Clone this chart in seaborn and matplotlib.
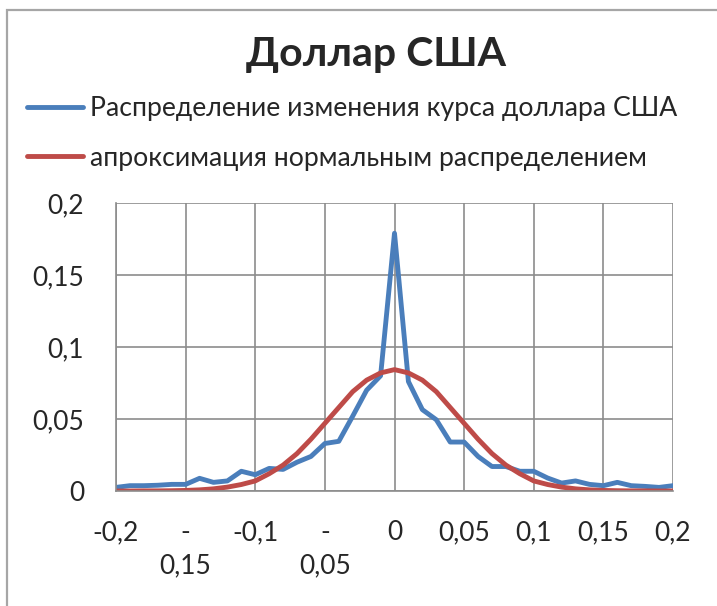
import matplotlib
matplotlib.use('Agg')
import seaborn as sns
import matplotlib.pyplot as plt
import pandas as pd
from matplotlib.patches import Rectangle

# x grid of changes, step 0.01
x_vals = [-0.20, -0.19, -0.18, -0.17, -0.16, -0.15, -0.14, -0.13, -0.12, -0.11,
          -0.10, -0.09, -0.08, -0.07, -0.06, -0.05, -0.04, -0.03, -0.02, -0.01,
          0.00, 0.01, 0.02, 0.03, 0.04, 0.05, 0.06, 0.07, 0.08, 0.09,
          0.10, 0.11, 0.12, 0.13, 0.14, 0.15, 0.16, 0.17, 0.18, 0.19, 0.20]

usd_dist = [0.0025, 0.0037, 0.0037, 0.0040, 0.0046, 0.0046, 0.0088, 0.0060, 0.0070, 0.0137,
            0.0113, 0.0157, 0.0150, 0.0200, 0.0240, 0.0330, 0.0345, 0.0520, 0.0700, 0.0800,
            0.1790, 0.0760, 0.0565, 0.0495, 0.0340, 0.0340, 0.0240, 0.0170, 0.0170, 0.0137,
            0.0137, 0.0090, 0.0055, 0.0070, 0.0046, 0.0037, 0.0060, 0.0037, 0.0032, 0.0025,
            0.0037]

normal_fit = [0.0000, 0.0000, 0.0001, 0.0001, 0.0002, 0.0004, 0.0008, 0.0015, 0.0027, 0.0045,
              0.0070, 0.0120, 0.0180, 0.0260, 0.0360, 0.0470, 0.0580, 0.0690, 0.0770, 0.0820,
              0.0843, 0.0820, 0.0770, 0.0690, 0.0580, 0.0470, 0.0360, 0.0260, 0.0180, 0.0120,
              0.0070, 0.0045, 0.0027, 0.0015, 0.0008, 0.0004, 0.0002, 0.0001, 0.0001, 0.0000,
              0.0000]

series_names = ['Распределение изменения курса доллара США',
                'апроксимация нормальным распределением']
title = 'Доллар США'

x_ticks = [-0.2, -0.15, -0.1, -0.05, 0, 0.05, 0.1, 0.15, 0.2]
x_tick_labels = ['-0,2', '-\n0,15', '-0,1', '-\n0,05', '0', '0,05', '0,1', '0,15', '0,2']
y_ticks = [0, 0.05, 0.1, 0.15, 0.2]
y_tick_labels = ['0', '0,05', '0,1', '0,15', '0,2']

colors = ['#4A7EBB', '#BE4B48']

df = pd.DataFrame({'x': x_vals * 2,
                   'y': usd_dist + normal_fit,
                   'series': [series_names[0]] * len(x_vals) + [series_names[1]] * len(x_vals)})

sns.set_style('white')
plt.rcParams['font.family'] = ['Lato', 'DejaVu Sans']

fig = plt.figure(figsize=(7.17, 6.06), dpi=100)
ax = fig.add_axes([116 / 717, 1 - 491 / 606, (673 - 116) / 717, (491 - 203) / 606])

sns.lineplot(data=df, x='x', y='y', hue='series', palette=colors, linewidth=3.5,
             ax=ax, legend=False, sort=False)

grid_c = '#8C8C8C'
ax.set_xlim(-0.2, 0.2)
ax.set_ylim(0, 0.2)
ax.set_xticks(x_ticks)
ax.set_xticklabels(x_tick_labels, fontsize=19, linespacing=1.4)
ax.set_yticks(y_ticks)
ax.set_yticklabels(y_tick_labels, fontsize=19)
ax.grid(True, color=grid_c, linewidth=1.2)
ax.set_axisbelow(True)
for s in ['top', 'right']:
    ax.spines[s].set_visible(False)
for s in ['left', 'bottom']:
    ax.spines[s].set_color(grid_c)
    ax.spines[s].set_linewidth(1.2)
ax.tick_params(axis='both', length=8, width=1.2, color=grid_c, direction='out')
ax.tick_params(axis='x', pad=13)
ax.tick_params(axis='y', pad=15)
ax.set_xlabel('')
ax.set_ylabel('')

# legend
handles = ax.get_lines()[:2]
fig.legend(handles, series_names, loc='upper left', bbox_to_anchor=(27 / 717, 1 - 96 / 606),
           frameon=False, fontsize=19.2, handlelength=2.1, handletextpad=0.26,
           labelspacing=0.92, borderaxespad=0, borderpad=0)

fig.text(376 / 717, 1 - 66 / 606, title, ha='center', va='baseline',
         fontsize=29.5, fontweight='bold')

fig.patches.append(Rectangle((7 / 717, -0.1), 1.2, 1 - 10 / 606 + 0.1, transform=fig.transFigure,
                             fill=False, edgecolor='#A6A6A6', linewidth=1.6))

fig.savefig('out.png', dpi=100)
